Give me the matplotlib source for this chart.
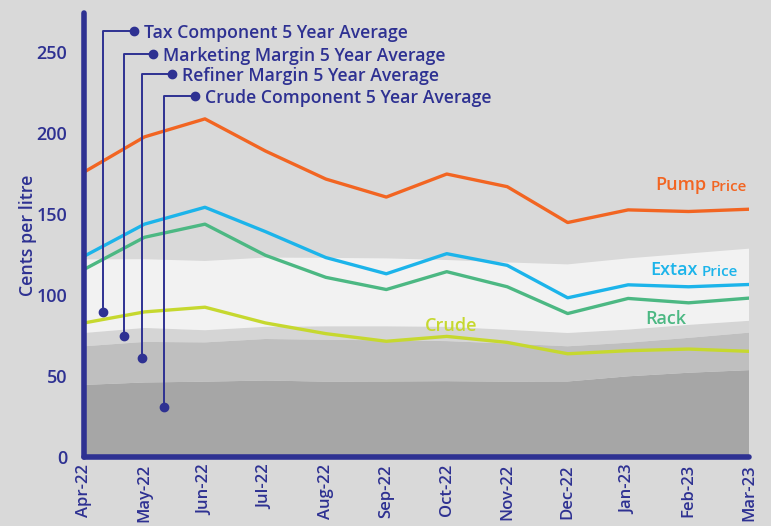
import matplotlib
matplotlib.use("Agg")
import matplotlib.pyplot as plt
import numpy as np

plt.rcParams['font.family'] = ['Open Sans', 'DejaVu Sans']

months = ['Apr-22', 'May-22', 'Jun-22', 'Jul-22', 'Aug-22', 'Sep-22',
          'Oct-22', 'Nov-22', 'Dec-22', 'Jan-23', 'Feb-23', 'Mar-23']

# price lines (cents per litre)
pump = [175.7, 197.4, 208.5, 188.7, 171.4, 160.3, 174.5, 166.7, 144.6, 152.4, 151.4, 152.8]
extax = [123.8, 143.6, 154.0, 139.0, 123.0, 113.0, 125.4, 118.2, 98.2, 106.2, 105.0, 106.4]
rack = [115.7, 135.5, 143.6, 124.4, 110.8, 103.3, 114.3, 105.0, 88.5, 97.8, 95.1, 98.0]
crude = [82.7, 89.5, 92.4, 82.7, 76.1, 71.4, 74.4, 70.7, 63.7, 65.6, 66.6, 65.2]

# 5 year average components (stacked)
crude_avg = [44.5, 46.0, 46.5, 47.2, 46.5, 46.6, 46.8, 46.5, 46.6, 49.8, 52.0, 53.6]
refiner_avg = [23.8, 25.0, 24.2, 25.6, 25.8, 25.4, 24.7, 23.5, 21.7, 20.7, 21.5, 23.1]
marketing_avg = [8.2, 8.6, 7.5, 7.5, 8.3, 8.6, 8.8, 8.5, 8.2, 8.1, 8.0, 7.3]
tax_avg = [45.4, 42.4, 42.7, 42.7, 42.2, 41.9, 41.2, 41.5, 42.3, 43.9, 44.0, 44.5]

navy = '#2e3192'
bg = '#d9d9d9'

fig = plt.figure(figsize=(7.71, 5.26), dpi=100, facecolor=bg)
ax = fig.add_axes([0.109, 0.131, 0.8625, 0.845])
ax.set_facecolor(bg)

x = np.arange(len(months))
ax.stackplot(x, crude_avg, refiner_avg, marketing_avg, tax_avg,
             colors=['#a6a6a6', '#bfbfbf', '#d5d5d5', '#f2f2f2'], linewidth=0)

ax.plot(x, pump, color='#f26522', lw=2.4)
ax.plot(x, extax, color='#1cb4ea', lw=2.4)
ax.plot(x, rack, color='#4cb883', lw=2.4)
ax.plot(x, crude, color='#c6d82f', lw=2.4)

ax.set_xlim(0, 11)
ax.set_ylim(0, 274)
ax.set_xticks(x)
ax.set_xticklabels(months, rotation=90, fontsize=12, color=navy)
ax.set_yticks([0, 50, 100, 150, 200, 250])
ax.tick_params(axis='y', length=0, pad=12, labelsize=13, labelcolor=navy)
ax.tick_params(axis='x', length=0, pad=5)
for lab in ax.get_yticklabels() + ax.get_xticklabels():
    lab.set_fontweight('semibold')

for s in ['top', 'right']:
    ax.spines[s].set_visible(False)
for s in ['left', 'bottom']:
    ax.spines[s].set_color(navy)
    ax.spines[s].set_linewidth(4)
    ax.spines[s].set_capstyle('round')

ax.set_ylabel('Cents per litre', fontsize=12.8, color=navy, fontweight='semibold', labelpad=0)

# series labels
t = ax.text(9.45, 164.5, 'Pump', fontsize=13, color='#f26522', fontweight='semibold')
ax.annotate('Price', xy=(1, 0), xycoords=t, xytext=(3, 0), textcoords='offset points',
            fontsize=11, color='#f26522', fontweight='semibold', va='bottom')
t = ax.text(9.36, 112, 'Extax', fontsize=13, color='#1cb4ea', fontweight='semibold')
ax.annotate('Price', xy=(1, 0), xycoords=t, xytext=(3, 0), textcoords='offset points',
            fontsize=11, color='#1cb4ea', fontweight='semibold', va='bottom')
ax.text(9.28, 81.8, 'Rack', fontsize=13, color='#4cb883', fontweight='semibold')
ax.text(5.64, 77.5, 'Crude', fontsize=13, color='#c6d82f', fontweight='semibold')

# 5 year average callouts: (label, x of vertical leg, y bottom dot, x of top dot, y of top)
callouts = [
    ('Tax Component 5 Year Average', 0.314, 89.7, 0.827, 262.4),
    ('Marketing Margin 5 Year Average', 0.662, 74.9, 1.14, 248.8),
    ('Refiner Margin 5 Year Average', 0.96, 61.3, 1.456, 236.4),
    ('Crude Component 5 Year Average', 1.32, 30.9, 1.836, 222.8),
]
for label, xv, yb, xt, yt in callouts:
    ax.plot([xv, xv, xt], [yb, yt, yt], color=navy, lw=1.4, clip_on=False)
    ax.plot([xv, xt], [yb, yt], 'o', color=navy, ms=6, clip_on=False)
    ax.text(xt + 0.17, yt, label, fontsize=12.7, color=navy, fontweight='semibold',
            va='center_baseline')

fig.savefig('out.png', dpi=100, facecolor=bg)
